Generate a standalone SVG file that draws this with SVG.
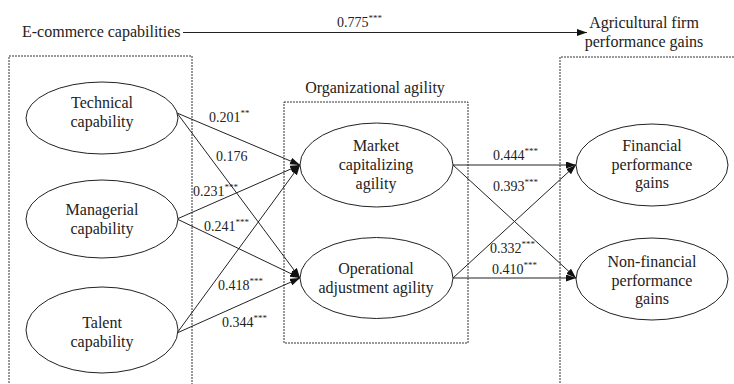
<svg xmlns="http://www.w3.org/2000/svg" width="734" height="384" viewBox="0 0 734 384">
<style>
text{font-family:"Liberation Serif","Times New Roman",serif;fill:#222}
.t{font-size:16px;text-anchor:middle}
.n{font-size:14px}
.s{font-size:9px}
.box{fill:none;stroke:#333;stroke-width:1;stroke-dasharray:2,1}
.el{fill:#fff;stroke:#222;stroke-width:1}
.c{stroke:#222;stroke-width:1;fill:none;marker-end:url(#ah)}
</style>
<defs>
<marker id="ah" markerUnits="userSpaceOnUse" markerWidth="11" markerHeight="8" refX="10" refY="3.5" orient="auto">
<path d="M0,0 L10,3.5 L0,7 Z" fill="#111"/>
</marker>
</defs>
<rect width="734" height="384" fill="#fff"/>
<g id="frames">
<path class="box" d="M9,386 V56 H192 V386"/>
<path class="box" d="M560,386 V57 H736"/>
<rect class="box" x="284" y="102" width="184" height="241"/>
<text class="t" x="375" y="93">Organizational agility</text>
</g>
<g id="connectors">
<line class="c" x1="183" y1="32.5" x2="587" y2="32.5"/>
<line class="c" x1="177" y1="113" x2="300" y2="165"/>
<line class="c" x1="177" y1="113" x2="300" y2="278"/>
<line class="c" x1="177" y1="219" x2="300" y2="165"/>
<line class="c" x1="177" y1="219" x2="300" y2="278"/>
<line class="c" x1="177" y1="333" x2="300" y2="165"/>
<line class="c" x1="177" y1="333" x2="300" y2="278"/>
<line class="c" x1="453" y1="165" x2="576" y2="165"/>
<line class="c" x1="453" y1="165" x2="576" y2="278"/>
<line class="c" x1="453" y1="278" x2="576" y2="165"/>
<line class="c" x1="453" y1="278" x2="576" y2="278"/>
<text class="n" x="337" y="27">0.775<tspan class="s" dy="-6">***</tspan></text>
<text class="n" x="209" y="122">0.201<tspan class="s" dy="-6">**</tspan></text>
<text class="n" x="216" y="161">0.176</text>
<text class="n" x="193" y="196">0.231<tspan class="s" dy="-6">***</tspan></text>
<text class="n" x="204" y="231">0.241<tspan class="s" dy="-6">***</tspan></text>
<text class="n" x="218" y="290">0.418<tspan class="s" dy="-6">***</tspan></text>
<text class="n" x="222" y="327">0.344<tspan class="s" dy="-6">***</tspan></text>
<text class="n" x="493" y="160">0.444<tspan class="s" dy="-6">***</tspan></text>
<text class="n" x="493" y="191">0.393<tspan class="s" dy="-6">***</tspan></text>
<text class="n" x="490" y="253">0.332<tspan class="s" dy="-6">***</tspan></text>
<text class="n" x="492" y="274">0.410<tspan class="s" dy="-6">***</tspan></text>
</g>
<g id="ecommerce">
<text x="22" y="37" style="font-size:16px">E-commerce capabilities</text>
</g>
<g id="performance">
<text class="t" x="644" y="28">Agricultural firm</text>
<text class="t" x="644" y="47">performance gains</text>
</g>
<g id="technical">
<ellipse class="el" cx="102" cy="118" rx="76" ry="36"/>
<text class="t" x="102" y="108">Technical</text>
<text class="t" x="102" y="127">capability</text>
</g>
<g id="managerial">
<ellipse class="el" cx="102" cy="219" rx="76" ry="39"/>
<text class="t" x="102" y="215">Managerial</text>
<text class="t" x="102" y="234">capability</text>
</g>
<g id="talent">
<ellipse class="el" cx="102" cy="330" rx="76" ry="43"/>
<text class="t" x="102" y="328">Talent</text>
<text class="t" x="102" y="347">capability</text>
</g>
<g id="market">
<ellipse class="el" cx="376.5" cy="165" rx="76.5" ry="42"/>
<text class="t" x="376" y="151">Market</text>
<text class="t" x="376" y="170">capitalizing</text>
<text class="t" x="376" y="189">agility</text>
</g>
<g id="operational">
<ellipse class="el" cx="376.5" cy="278" rx="76.5" ry="40.5"/>
<text class="t" x="376" y="274">Operational</text>
<text class="t" x="376" y="293">adjustment agility</text>
</g>
<g id="financial">
<ellipse class="el" cx="652" cy="165" rx="76" ry="41"/>
<text class="t" x="652" y="151">Financial</text>
<text class="t" x="652" y="170">performance</text>
<text class="t" x="652" y="188">gains</text>
</g>
<g id="nonfinancial">
<ellipse class="el" cx="652" cy="279" rx="76" ry="41"/>
<text class="t" x="652" y="267">Non-financial</text>
<text class="t" x="652" y="286">performance</text>
<text class="t" x="652" y="304">gains</text>
</g>
</svg>
